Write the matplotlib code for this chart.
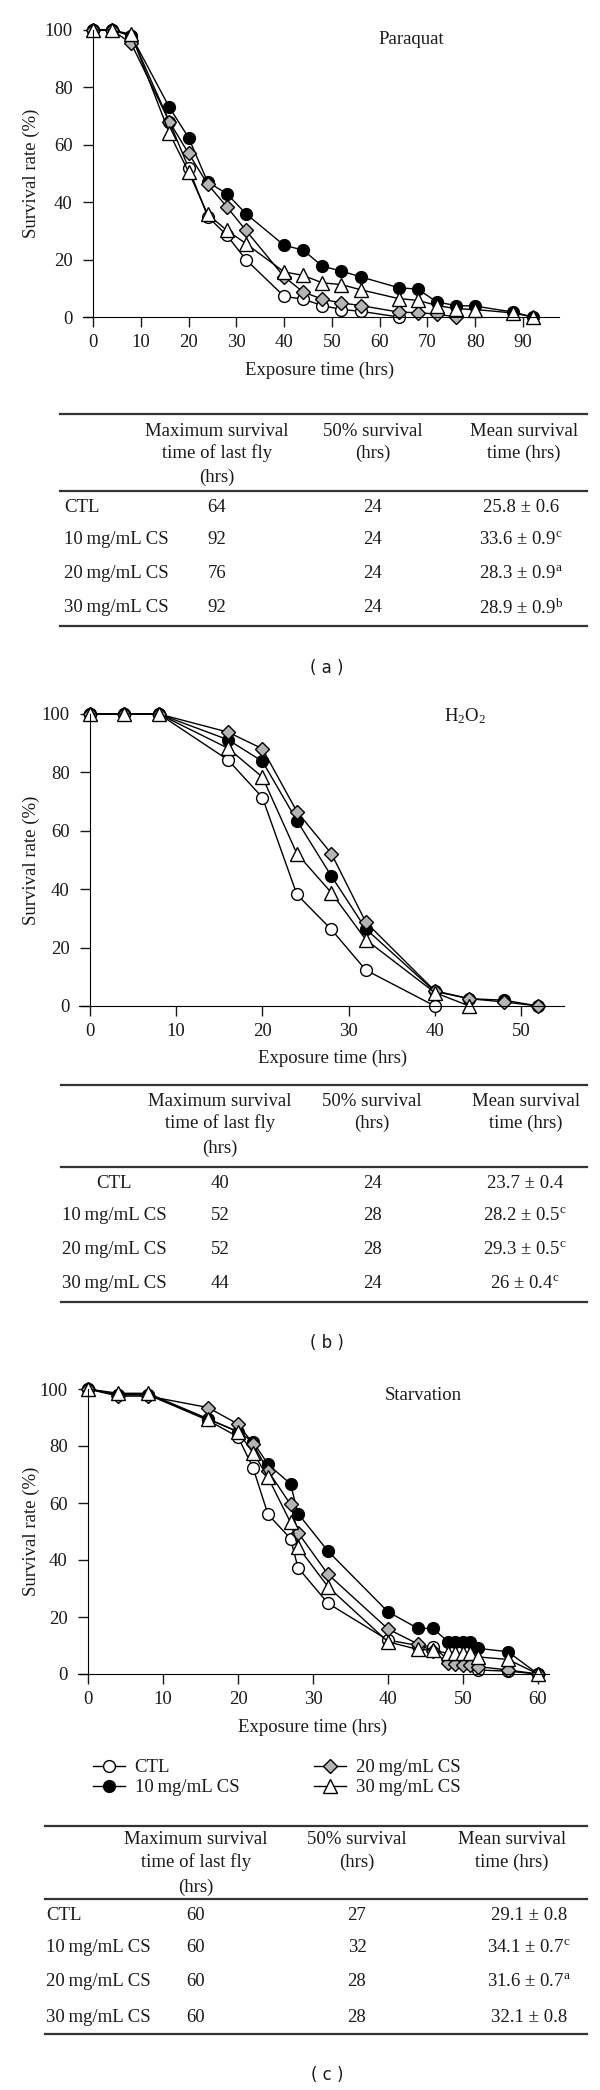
import matplotlib
matplotlib.use("Agg")
import matplotlib.pyplot as plt

# survival curves (% alive)
time_a = [0, 4, 8, 16, 20, 24, 28, 32, 40, 44, 48, 52, 56, 64, 68, 72, 76, 80, 88, 92]
ctl_a = [100, 100, 98, 68, 52, 35, 28.5, 20, 7.2, 6.2, 4, 2.6, 2, 0]
cs10_a = [100, 100, 98, 73, 62.5, 47, 43, 36, 25, 23.3, 17.7, 16, 14, 10.2, 9.7, 5.2, 4, 3.8, 1.7, 0]
cs20_a = [100, 100, 95.3, 68, 57, 46.3, 38.4, 30.2, 14, 8.7, 6.2, 4.9, 4, 1.7, 1.5, 1, 0]
cs30_a = [100, 100, 98.5, 64, 50.6, 35.8, 30.2, 25.6, 15.7, 14.5, 11.9, 11.3, 9.5, 6.4, 5.8, 4, 2.9, 2.6, 1.4, 0]

time_b = [0, 4, 8, 16, 20, 24, 28, 32, 40, 44, 48, 52]
ctl_b = [100, 100, 100, 84.3, 71.4, 38.2, 26.2, 12.3, 0]
cs10_b = [100, 100, 100, 91.2, 83.8, 63.5, 44.5, 26.4, 5, 2.5, 2, 0]
cs20_b = [100, 100, 100, 93.8, 88.1, 66.6, 52.2, 28.7, 5.2, 2.5, 1.4, 0]
cs30_b = [100, 100, 100, 88.3, 78.4, 52.2, 38.8, 22.7, 4.6, 0]

time_c = [0, 4, 8, 16, 20, 22, 24, 27, 28, 32, 40, 44, 46, 48, 49, 50, 51, 52, 56, 60]
ctl_c = [100, 98, 98, 89, 83.2, 72.4, 56, 47.5, 37.3, 24.8, 11.9, 10, 9.6, 5, 4.5, 4, 3.5, 1.4, 1, 0]
cs10_c = [100, 98, 98, 89.5, 85, 81.5, 73.6, 66.7, 56.3, 43.1, 21.8, 16, 16, 11.3, 11.3, 11.3, 11.3, 9, 7.8, 0]
cs20_c = [100, 97.5, 97.5, 93.5, 87.7, 80.8, 71.3, 59.5, 49.6, 35, 15.8, 10.5, 8, 3.7, 3.5, 3.3, 3, 2.6, 1.4, 0]
cs30_c = [100, 98.5, 98.5, 89.5, 85, 77.7, 69, 53.2, 44.6, 30.6, 11.3, 8.6, 8.4, 7.2, 7.2, 7.2, 7.2, 6, 5.1, 0]

groups = ["CTL", "10\u2009mg/mL CS", "20\u2009mg/mL CS", "30\u2009mg/mL CS"]

# table values
max_a = [64, 92, 76, 92]
half_a = [24, 24, 24, 24]
mean_a = ["25.8 ± 0.6", "33.6 ± 0.9$^{\\mathrm{c}}$", "28.3 ± 0.9$^{\\mathrm{a}}$", "28.9 ± 0.9$^{\\mathrm{b}}$"]
max_b = [40, 52, 52, 44]
half_b = [24, 28, 28, 24]
mean_b = ["23.7 ± 0.4", "28.2 ± 0.5$^{\\mathrm{c}}$", "29.3 ± 0.5$^{\\mathrm{c}}$", "26 ± 0.4$^{\\mathrm{c}}$"]
max_c = [60, 60, 60, 60]
half_c = [27, 32, 28, 28]
mean_c = ["29.1 ± 0.8", "34.1 ± 0.7$^{\\mathrm{c}}$", "31.6 ± 0.7$^{\\mathrm{a}}$", "32.1 ± 0.8"]

plt.rcParams['font.family'] = ['Liberation Serif', 'DejaVu Serif']
plt.rcParams['mathtext.fontset'] = 'custom'
plt.rcParams['mathtext.rm'] = 'Liberation Serif'
plt.rcParams['mathtext.it'] = 'Liberation Serif:italic'
FS = 13.5
TXT = '#1a1a1a'

W, H = 600, 2090
fig = plt.figure(figsize=(W / 100, H / 100), dpi=100)

# overlay in pixel units for the tables and captions
ov = fig.add_axes([0, 0, 1, 1])
ov.set_xlim(0, W)
ov.set_ylim(H, 0)
ov.axis('off')

styles = [
    dict(marker='o', ms=8.5, mfc='white'),
    dict(marker='o', ms=8.5, mfc='black'),
    dict(marker='D', ms=7, mfc='#b4b4b4'),
    dict(marker='^', ms=10, mfc='white'),
]


def panel(px0, pxref, xref, xlim, py0, py100, t, series, ticks, title, title_xy, xlab_xy):
    ylim = (-2, 102)
    sx = (pxref - px0) / xref
    sy = (py0 - py100) / 100
    left = px0 + xlim[0] * sx
    right = px0 + xlim[1] * sx
    bot = py0 - ylim[0] * sy
    top = py0 - ylim[1] * sy
    ax = fig.add_axes([left / W, 1 - bot / H, (right - left) / W, (bot - top) / H])
    for vals, st, lab in zip(series, styles, groups):
        ax.plot(t[:len(vals)], vals, color='black', lw=1, mec='black', mew=1,
                clip_on=False, label=lab, **st)
    ax.set_xlim(xlim)
    ax.set_ylim(ylim)
    for s in ['top', 'right']:
        ax.spines[s].set_visible(False)
    ax.spines['left'].set_position(('data', 0))
    ax.spines['bottom'].set_position(('data', 0))
    ax.spines['left'].set_bounds(0, 100)
    ax.set_xticks(ticks)
    ax.set_yticks([0, 20, 40, 60, 80, 100])
    ax.tick_params(direction='out', length=7.5, width=1, labelsize=FS, colors=TXT)
    ax.tick_params(axis='y', pad=7)
    ax.tick_params(axis='x', pad=5)
    ax.patch.set_alpha(0)
    ov.text(title_xy[0], title_xy[1], title, ha='center', va='center', fontsize=FS, color=TXT)
    ov.text(xlab_xy[0], xlab_xy[1], "Exposure time (hrs)", ha='center', va='center',
            fontsize=FS, color=TXT)
    ov.text(31, (py0 + py100) / 2, "Survival rate (%)", rotation=90, ha='center',
            va='center', fontsize=FS, color=TXT)
    return ax


def table(y_top, y_head, y_mid, y_rows, y_bot, x0, x1, lab_x, lab_ha, cx, cx_head3, cx_val3,
          maxv, halfv, meanv):
    for y in (y_top, y_mid, y_bot):
        ov.plot([x0, x1], [y, y], color='#333333', lw=1.6)
    for i, s in enumerate(["Maximum survival", "time of last fly", "(hrs)"]):
        ov.text(cx[0], y_head[i], s, ha='center', va='center', fontsize=FS, color=TXT)
    for i, s in enumerate(["50% survival", "(hrs)"]):
        ov.text(cx[1], y_head[i], s, ha='center', va='center', fontsize=FS, color=TXT)
    for i, s in enumerate(["Mean survival", "time (hrs)"]):
        ov.text(cx_head3, y_head[i], s, ha='center', va='center', fontsize=FS, color=TXT)
    for y, g, m, h, mn in zip(y_rows, groups, maxv, halfv, meanv):
        ov.text(lab_x, y, g, ha=lab_ha, va='center', fontsize=FS, color=TXT)
        ov.text(cx[0], y, str(m), ha='center', va='center', fontsize=FS, color=TXT)
        ov.text(cx[1], y, str(h), ha='center', va='center', fontsize=FS, color=TXT)
        ov.text(cx_val3, y, mn, ha='center', va='center', fontsize=FS, color=TXT)


# (a) Paraquat
panel(93, 523, 90, (-2, 97.5), 317, 30, time_a, [ctl_a, cs10_a, cs20_a, cs30_a],
      range(0, 91, 10), "Paraquat", (411, 39), (320, 370))
table(414, [432, 453, 477], 491, [507, 540, 574, 608], 626, 60, 587, 64, 'left',
      [217, 373], 524, 521, max_a, half_a, mean_a)
ov.text(327, 668, "( a )", ha='center', va='center', fontsize=12, family='DejaVu Sans', color=TXT)

# (b) H2O2
panel(90, 521, 50, (-1.3, 55), 1006, 714, time_b, [ctl_b, cs10_b, cs20_b, cs30_b],
      range(0, 51, 10), "H$_2$O$_2$", (465, 716), (333, 1058))
table(1085, [1102, 1123, 1148], 1167, [1183, 1216, 1250, 1284], 1302, 61, 587, 114, 'center',
      [220, 372], 526, 525, max_b, half_b, mean_b)
ov.text(327, 1343, "( b )", ha='center', va='center', fontsize=12, family='DejaVu Sans', color=TXT)

# (c) Starvation
ax_c = panel(88, 538, 60, (-1.4, 61.5), 1674, 1389, time_c, [ctl_c, cs10_c, cs20_c, cs30_c],
             range(0, 61, 10), "Starvation", (423, 1395), (313, 1727))
h, l = ax_c.get_legend_handles_labels()
fig.legend(h, l, ncol=2, loc='upper left', bbox_to_anchor=(84 / W, 1 - 1750 / H),
           frameon=False, fontsize=FS, handlelength=1.7, handletextpad=0.5,
           columnspacing=4.0, labelspacing=0.15, borderpad=0, numpoints=1,
           labelcolor=TXT)
table(1826, [1840, 1862, 1887], 1899, [1915, 1948, 1982, 2017], 2034, 45, 587, 46, 'left',
      [196, 357], 512, 529, max_c, half_c, mean_c)
ov.text(327, 2075, "( c )", ha='center', va='center', fontsize=12, family='DejaVu Sans', color=TXT)

fig.savefig("out.png", dpi=100)
